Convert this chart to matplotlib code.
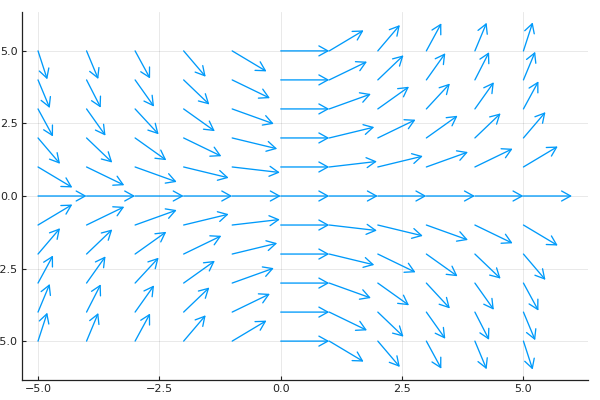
import numpy as np
import matplotlib
matplotlib.use("Agg")
import matplotlib.pyplot as plt
from matplotlib.patches import FancyArrowPatch

# Grid positions of arrow tails
x_vals = [-5, -4, -3, -2, -1, 0, 1, 2, 3, 4, 5]
y_vals = [5, 4, 3, 2, 1, 0, -1, -2, -3, -4, -5]

# Arrow direction (degrees), rows follow y_vals, columns follow x_vals (unit-length arrows)
angles_deg = [
    [-79, -76, -72, -63, -45, 0, 45, 63, 72, 76, 79],
    [-76, -73, -67, -58, -39, 0, 39, 58, 67, 73, 76],
    [-72, -67, -61, -50, -31, 0, 31, 50, 61, 67, 72],
    [-63, -58, -50, -39, -22, 0, 22, 39, 50, 58, 63],
    [-45, -39, -31, -22, -11, 0, 11, 22, 31, 39, 45],
    [0, 0, 0, 0, 0, 0, 0, 0, 0, 0, 0],
    [45, 39, 31, 22, 11, 0, -11, -22, -31, -39, -45],
    [63, 58, 50, 39, 22, 0, -22, -39, -50, -58, -63],
    [72, 67, 61, 50, 31, 0, -31, -50, -61, -67, -72],
    [76, 73, 67, 58, 39, 0, -39, -58, -67, -73, -76],
    [79, 76, 72, 63, 45, 0, -45, -63, -72, -76, -79],
]

tick_vals = [-5, -2.5, 0, 2.5, 5]
tick_labels = ["\u22125.0", "\u22122.5", "0.0", "2.5", "5.0"]

color = "#009AFA"

fig = plt.figure(figsize=(6, 4), dpi=100)
ax = fig.add_axes([22 / 600, 1 - 380 / 400, (588 - 22) / 600, (380 - 12) / 400])

ang = np.radians(np.array(angles_deg, dtype=float))
U = np.cos(ang)
V = np.sin(ang)

for i, yv in enumerate(y_vals):
    for j, xv in enumerate(x_vals):
        arr = FancyArrowPatch((xv, yv), (xv + U[i, j], yv + V[i, j]),
                              arrowstyle="->,head_length=0.65,head_width=0.36",
                              mutation_scale=10, shrinkA=0, shrinkB=0,
                              color=color, lw=0.95, zorder=3)
        ax.add_patch(arr)

ax.set_xlim(-5.33, 6.33)
ax.set_ylim(-6.34, 6.34)

ax.set_xticks(tick_vals)
ax.set_xticklabels(tick_labels)
ax.set_yticks(tick_vals)
ax.set_yticklabels(tick_labels)

ax.grid(True, color="black", alpha=0.1, lw=0.6)
ax.set_axisbelow(True)
for s in ["top", "right"]:
    ax.spines[s].set_visible(False)
for s in ["left", "bottom"]:
    ax.spines[s].set_linewidth(0.9)
    ax.spines[s].set_color("#222222")
ax.tick_params(direction="in", length=3, width=0.8, labelsize=8, colors="#222222", pad=3)

fig.savefig("out.png", dpi=100)
